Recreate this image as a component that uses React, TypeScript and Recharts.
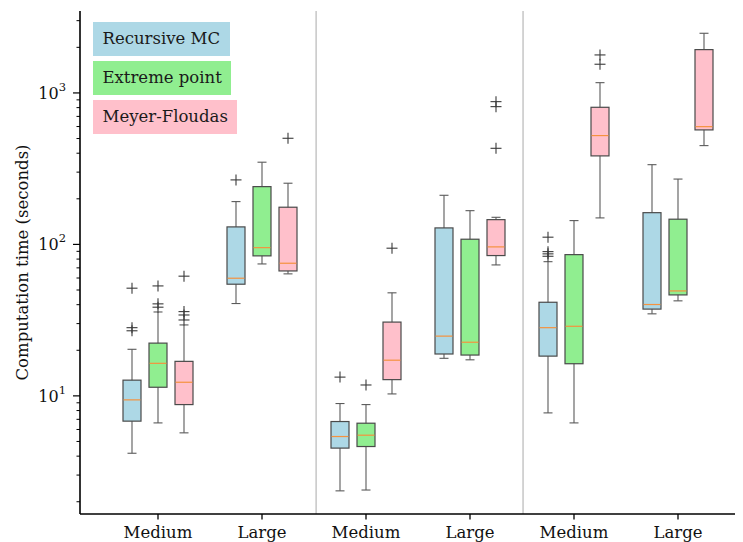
import React from 'react';
import { ComposedChart, Bar, Scatter, XAxis, YAxis, ReferenceLine, Legend } from 'recharts';

// ---------- data ----------
const categories = ['M1', 'L1', 'M2', 'L2', 'M3', 'L3'];
const categoryLabels = ['Medium', 'Large', 'Medium', 'Large', 'Medium', 'Large'];
const seriesNames = ['Recursive MC', 'Extreme point', 'Meyer-Floudas'];
const seriesKeys = ['rmc', 'ext', 'mf'];
const seriesColors = ['#add8e6', '#90ee90', '#ffc0cb'];
const seriesOffsets = [-0.25, 0, 0.25];

const rmcLow = [4.18, 40.7, 2.36, 17.7, 7.72, 34.8];
const rmcQ1 = [6.81, 54.6, 4.52, 18.9, 18.3, 37.4];
const rmcMed = [9.41, 59.8, 5.39, 24.8, 28.2, 40.1];
const rmcQ3 = [12.7, 130.5, 6.77, 128.5, 41.5, 162];
const rmcHigh = [20.3, 191.7, 8.9, 211, 76.9, 336];
const rmcOutliers = [[51.4, 28.2, 26.9], [266.6], [13.3], [], [111.6, 89.6, 86.6, 83.5], []];

const extLow = [6.63, 74.3, 2.39, 17.3, 6.63, 42.4];
const extQ1 = [11.4, 84.0, 4.63, 18.6, 16.3, 46.4];
const extMed = [16.4, 95.2, 5.5, 22.6, 28.8, 49.3];
const extQ3 = [22.3, 240.7, 6.6, 108.2, 85.6, 146.7];
const extHigh = [35.8, 348.9, 8.76, 167, 143.6, 270];
const extOutliers = [[53.2, 40.5, 38.5], [], [11.8], [], [], []];

const mfLow = [5.7, 63.9, 10.3, 73.2, 149.6, 449];
const mfQ1 = [8.76, 66.8, 12.8, 84.4, 384, 570];
const mfMed = [12.3, 75.1, 17.2, 96.3, 523, 599];
const mfQ3 = [16.9, 176, 30.7, 145.7, 804, 1932];
const mfHigh = [29.4, 253.5, 47.9, 151, 1169, 2477];
const mfOutliers = [[61.7, 36.0, 34.2, 31.7], [502], [94.4], [876, 812, 431], [1782, 1547], []];

const yDomain = [1.66, 3475];
const yMajorTicks = [10, 100, 1000];
const yMinorTicks = [2, 3, 4, 5, 6, 7, 8, 9, 20, 30, 40, 50, 60, 70, 80, 90, 200, 300, 400, 500, 600, 700, 800, 900, 2000, 3000];
const separatorPositions = [2.52, 4.51];

// ---------- assembled tables ----------
const series = [
  { low: rmcLow, q1: rmcQ1, med: rmcMed, q3: rmcQ3, high: rmcHigh, out: rmcOutliers },
  { low: extLow, q1: extQ1, med: extMed, q3: extQ3, high: extHigh, out: extOutliers },
  { low: mfLow, q1: mfQ1, med: mfMed, q3: mfQ3, high: mfHigh, out: mfOutliers },
];

const rows = categories.map((cat, i) => {
  const r: any = { cat };
  series.forEach((s, si) => {
    r[seriesKeys[si] + 'W'] = [s.low[i], s.high[i]];
    r[seriesKeys[si] + 'B'] = [s.q1[i], s.q3[i]];
  });
  return r;
});

const medianPoints = series.map((s, si) =>
  categories.map((_, i) => ({ x: i + 1 + seriesOffsets[si], y: s.med[i] }))
);
const outlierPoints = series.map((s, si) =>
  s.out.flatMap((vals, i) => vals.map((v) => ({ x: i + 1 + seriesOffsets[si], y: v })))
);

// ---------- styling ----------
const FONT = '"DejaVu Serif", serif';
const BOX_W = 18;
const EDGE = '#4a4a4a';
const WHISKER = '#5a5a5a';

const WhiskerShape = (p: any) => {
  const { x, y, width, height } = p;
  if (x == null || y == null || isNaN(y) || isNaN(height)) return null;
  const cx = x + width / 2;
  const top = Math.min(y, y + height);
  const bot = Math.max(y, y + height);
  return (
    <g stroke={WHISKER} strokeWidth={1.1}>
      <line x1={cx} x2={cx} y1={top} y2={bot} />
      <line x1={cx - 4.5} x2={cx + 4.5} y1={top} y2={top} />
      <line x1={cx - 4.5} x2={cx + 4.5} y1={bot} y2={bot} />
    </g>
  );
};

const BoxShape = (p: any) => {
  const { x, y, width, height, fill } = p;
  if (x == null || y == null || isNaN(y) || isNaN(height)) return null;
  const top = Math.min(y, y + height);
  const h = Math.abs(height);
  return <rect x={x} y={top} width={width} height={h} fill={fill} stroke={EDGE} strokeWidth={1.2} />;
};

const MedianShape = (p: any) => {
  const { cx, cy } = p;
  if (cx == null || cy == null || isNaN(cy)) return null;
  return <line x1={cx - BOX_W / 2 + 0.6} x2={cx + BOX_W / 2 - 0.6} y1={cy} y2={cy} stroke="#f5923e" strokeWidth={1.2} />;
};

const PlusShape = (p: any) => {
  const { cx, cy } = p;
  if (cx == null || cy == null || isNaN(cy)) return null;
  return (
    <g stroke="#3a3a3a" strokeWidth={1.1}>
      <line x1={cx - 5.5} x2={cx + 5.5} y1={cy} y2={cy} />
      <line x1={cx} x2={cx} y1={cy - 5.5} y2={cy + 5.5} />
    </g>
  );
};

const YTick = (p: any) => {
  const { x, y, payload } = p;
  const v = payload.value;
  const major = yMajorTicks.includes(v);
  if (!major) {
    return <line x1={x - 3.5} x2={x} y1={y} y2={y} stroke="#000" strokeWidth={1} />;
  }
  const exp = Math.round(Math.log10(v));
  return (
    <g>
      <line x1={x - 7} x2={x} y1={y} y2={y} stroke="#000" strokeWidth={1.2} />
      <text x={x - 14} y={y + 6} textAnchor="end" style={{ fontFamily: FONT }} fontSize={16} fill="#111">
        <tspan>10</tspan>
        <tspan dy={-8} fontSize={11.5}>{exp}</tspan>
      </text>
    </g>
  );
};

const XTick = (p: any) => {
  const { x, y, payload, index } = p;
  const idx = categories.indexOf(payload.value);
  const label = categoryLabels[idx >= 0 ? idx : index];
  return (
    <g>
      <line x1={x} x2={x} y1={y} y2={y + 5.5} stroke="#000" strokeWidth={1.3} />
      <text x={x} y={y + 24} textAnchor="middle" style={{ fontFamily: FONT }} fontSize={16.5} fill="#111">
        {label}
      </text>
    </g>
  );
};

const YLabel = (p: any) => {
  const vb = p.viewBox || { x: 0, y: 0, width: 0, height: 0 };
  const cx = vb.x + 14;
  const cy = vb.y + vb.height / 2;
  return (
    <text
      x={cx}
      y={cy}
      transform={`rotate(-90, ${cx}, ${cy})`}
      textAnchor="middle"
      dominantBaseline="central"
      style={{ fontFamily: FONT }}
      fontSize={16.5}
      fill="#111"
    >
      Computation time (seconds)
    </text>
  );
};

const LegendContent = () => (
  <div style={{ fontFamily: FONT, fontSize: 16.5, color: '#1a1a1a' }}>
    {seriesNames.map((n, i) => (
      <div
        key={n}
        style={{
          background: seriesColors[i],
          height: 34,
          lineHeight: '34px',
          padding: '0 9.5px',
          marginBottom: 5,
          width: 'fit-content',
          whiteSpace: 'nowrap',
        }}
      >
        {n}
      </div>
    ))}
  </div>
);

export default function App() {
  return (
    <div style={{ width: 735, height: 534, overflow: 'hidden', position: 'relative', fontFamily: FONT }}>
      <ComposedChart
        width={760}
        height={534}
        data={rows}
        margin={{ top: 3, right: 12, bottom: 0, left: 0 }}
        barGap={8}
        style={{ fontFamily: FONT }}
      >
        <XAxis
          xAxisId="cat"
          dataKey="cat"
          type="category"
          padding={{ left: 26, right: 26 }}
          tickSize={0}
          tickMargin={0}
          tickLine={false}
          interval={0}
          axisLine={{ stroke: '#000', strokeWidth: 1.6 }}
          tick={<XTick />}
          height={28}
        />
        <XAxis xAxisId="catW" dataKey="cat" type="category" padding={{ left: 26, right: 26 }} hide />
        <XAxis xAxisId="num" dataKey="x" type="number" domain={[0.25, 6.75]} allowDataOverflow hide />
        <XAxis
          xAxisId="top"
          dataKey="cat"
          type="category"
          orientation="top"
          height={0}
          tick={false}
          tickLine={false}
          axisLine={{ stroke: '#000', strokeWidth: 1.6 }}
        />
        <YAxis
          type="number"
          scale="log"
          domain={yDomain}
          allowDataOverflow
          ticks={[...yMinorTicks, ...yMajorTicks].sort((a, b) => a - b)}
          interval={0}
          tickSize={0}
          tickMargin={0}
          tickLine={false}
          axisLine={{ stroke: '#000', strokeWidth: 1.6 }}
          tick={<YTick />}
          width={72}
          label={{ content: <YLabel /> }}
        />
        {separatorPositions.map((sx) => (
          <ReferenceLine key={sx} xAxisId="num" x={sx} stroke="#aaaaaa" strokeWidth={1} ifOverflow="visible" />
        ))}
        {seriesKeys.map((k, si) => (
          <Bar
            key={'w' + k}
            xAxisId="catW"
            dataKey={k + 'W'}
            barSize={BOX_W}
            fill={seriesColors[si]}
            shape={<WhiskerShape />}
            isAnimationActive={false}
            legendType="none"
          />
        ))}
        {seriesKeys.map((k, si) => (
          <Bar
            key={'b' + k}
            xAxisId="cat"
            dataKey={k + 'B'}
            name={seriesNames[si]}
            barSize={BOX_W}
            fill={seriesColors[si]}
            shape={<BoxShape />}
            isAnimationActive={false}
          />
        ))}
        {medianPoints.map((pts, si) => (
          <Scatter
            key={'m' + si}
            xAxisId="num"
            data={pts}
            dataKey="y"
            shape={<MedianShape />}
            isAnimationActive={false}
            legendType="none"
          />
        ))}
        {outlierPoints.map((pts, si) => (
          <Scatter
            key={'o' + si}
            xAxisId="num"
            data={pts}
            dataKey="y"
            shape={<PlusShape />}
            isAnimationActive={false}
            legendType="none"
          />
        ))}
        <Legend
          content={<LegendContent />}
          layout="vertical"
          align="center"
          verticalAlign="middle"
          wrapperStyle={{ top: 14, left: 85, width: 'auto', height: 'auto' }}
        />
      </ComposedChart>
    </div>
  );
}
